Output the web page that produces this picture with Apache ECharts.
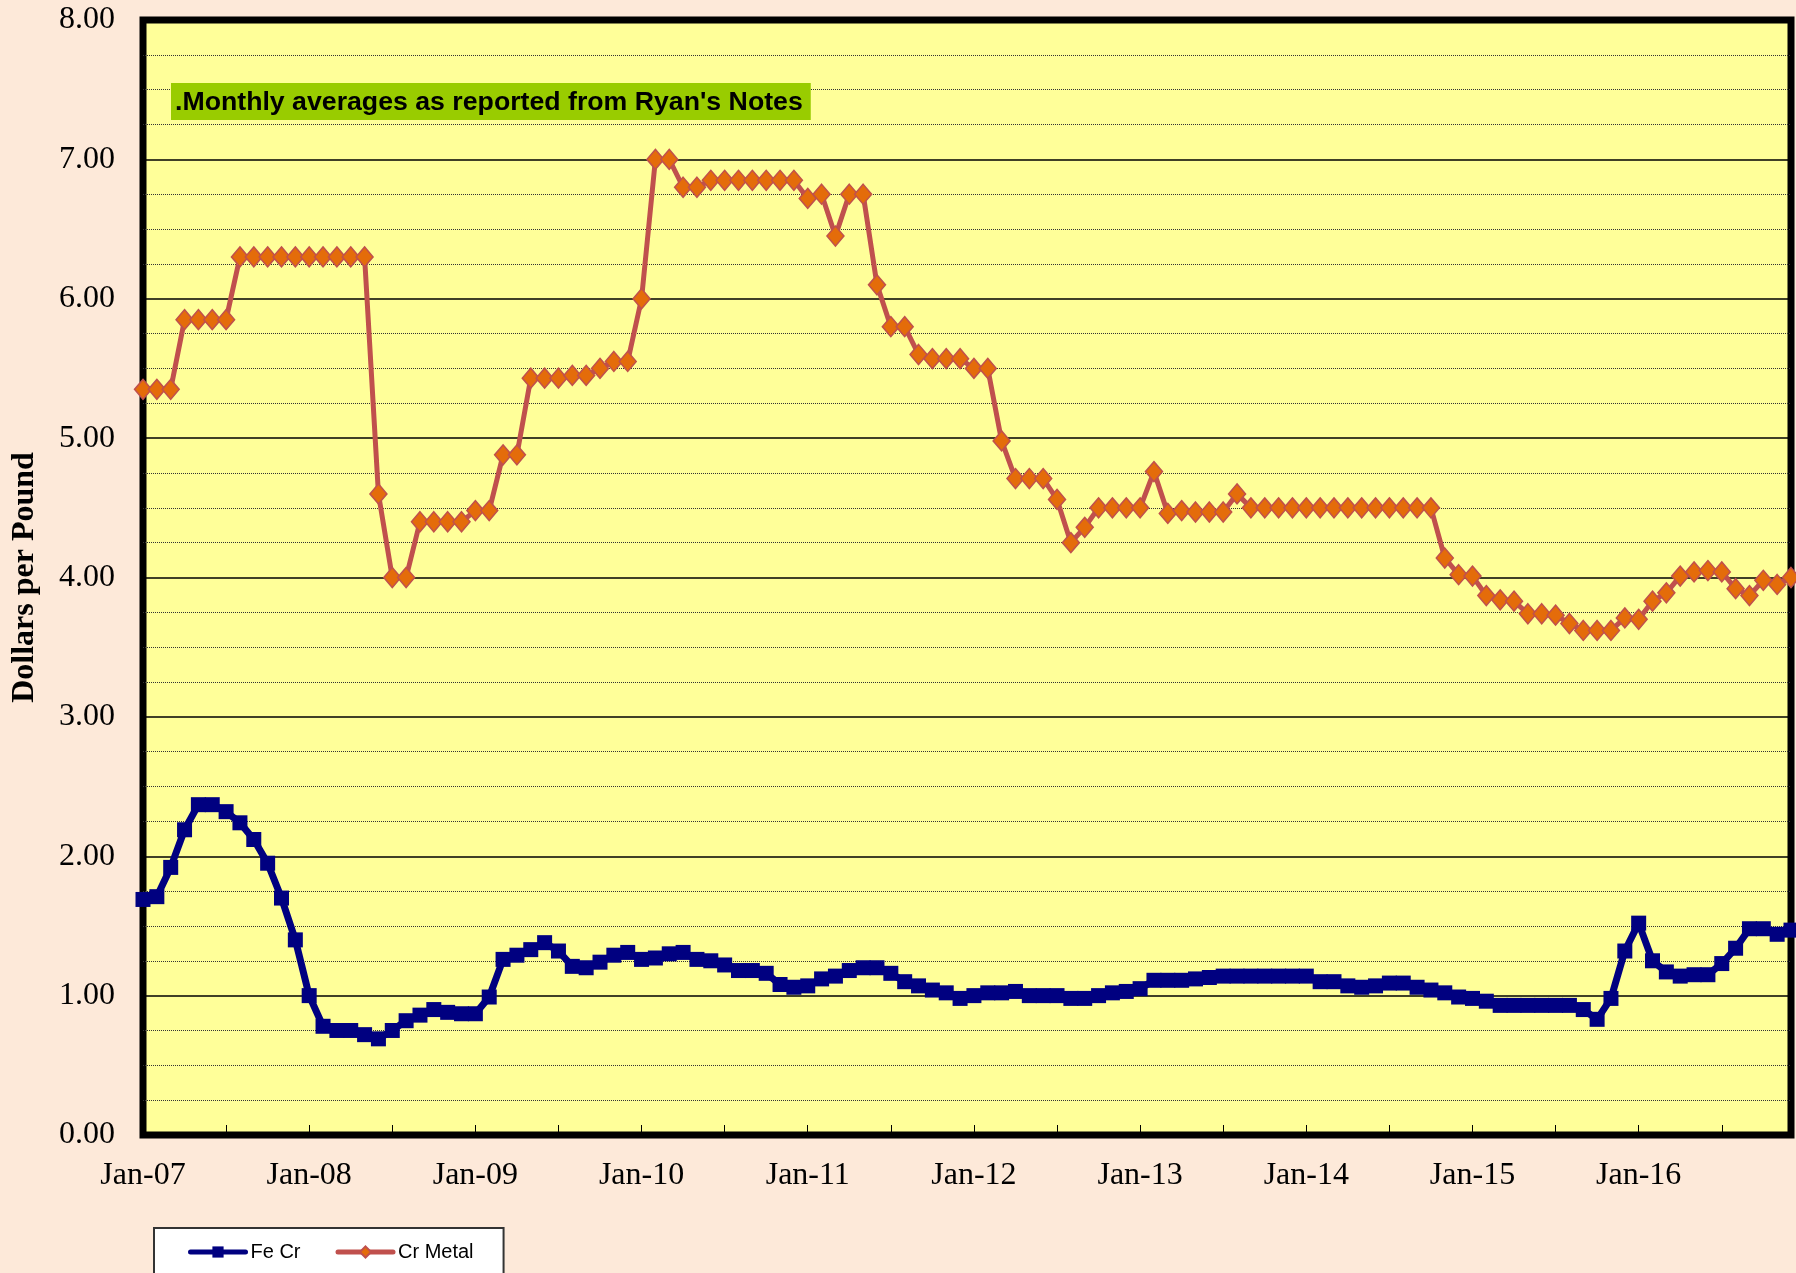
<!DOCTYPE html>
<html>
<head>
<meta charset="utf-8">
<title>Fe Cr / Cr Metal</title>
<script src="https://cdn.jsdelivr.net/npm/echarts@6/dist/echarts.min.js"></script>
<style>
  html, body { margin: 0; padding: 0; background: #FDE9D9; }
  #chart { width: 1796px; height: 1273px; }
</style>
</head>
<body>
<div id="chart"></div>
<script>
// months and years used to build the category labels
var months = ["Jan", "Feb", "Mar", "Apr", "May", "Jun", "Jul", "Aug", "Sep", "Oct", "Nov", "Dec"];
var years = ["07", "08", "09", "10", "11", "12", "13", "14", "15", "16"];

// Fe Cr, dollars per pound, Jan-07 .. Dec-16 (one row per year)
var feCr = [
  1.69, 1.71, 1.92, 2.19, 2.37, 2.37, 2.32, 2.24, 2.12, 1.95, 1.70, 1.40,
  1.00, 0.78, 0.75, 0.75, 0.72, 0.69, 0.75, 0.82, 0.86, 0.90, 0.88, 0.87,
  0.87, 0.99, 1.26, 1.29, 1.33, 1.38, 1.32, 1.21, 1.20, 1.24, 1.29, 1.31,
  1.26, 1.27, 1.30, 1.31, 1.26, 1.25, 1.22, 1.18, 1.18, 1.16, 1.08, 1.06,
  1.07, 1.12, 1.14, 1.18, 1.20, 1.20, 1.16, 1.10, 1.07, 1.04, 1.02, 0.98,
  1.00, 1.02, 1.02, 1.03, 1.00, 1.00, 1.00, 0.98, 0.98, 1.00, 1.02, 1.03,
  1.05, 1.11, 1.11, 1.11, 1.12, 1.13, 1.14, 1.14, 1.14, 1.14, 1.14, 1.14,
  1.14, 1.10, 1.10, 1.07, 1.06, 1.07, 1.09, 1.09, 1.06, 1.04, 1.02, 0.99,
  0.98, 0.96, 0.93, 0.93, 0.93, 0.93, 0.93, 0.93, 0.90, 0.83, 0.98, 1.32,
  1.52, 1.25, 1.17, 1.14, 1.15, 1.15, 1.23, 1.34, 1.48, 1.48, 1.44, 1.47
];

// Cr Metal, dollars per pound
var crMetal = [
  5.35, 5.35, 5.35, 5.85, 5.85, 5.85, 5.85, 6.30, 6.30, 6.30, 6.30, 6.30,
  6.30, 6.30, 6.30, 6.30, 6.30, 4.60, 4.00, 4.00, 4.40, 4.40, 4.40, 4.40,
  4.48, 4.48, 4.88, 4.88, 5.43, 5.43, 5.43, 5.45, 5.45, 5.50, 5.55, 5.55,
  6.00, 7.00, 7.00, 6.80, 6.80, 6.85, 6.85, 6.85, 6.85, 6.85, 6.85, 6.85,
  6.72, 6.75, 6.45, 6.75, 6.75, 6.10, 5.80, 5.80, 5.60, 5.57, 5.57, 5.57,
  5.50, 5.50, 4.98, 4.71, 4.71, 4.71, 4.56, 4.25, 4.36, 4.50, 4.50, 4.50,
  4.50, 4.76, 4.46, 4.48, 4.47, 4.47, 4.47, 4.60, 4.50, 4.50, 4.50, 4.50,
  4.50, 4.50, 4.50, 4.50, 4.50, 4.50, 4.50, 4.50, 4.50, 4.50, 4.14, 4.02,
  4.01, 3.87, 3.84, 3.83, 3.74, 3.74, 3.73, 3.67, 3.62, 3.62, 3.62, 3.71,
  3.70, 3.83, 3.89, 4.01, 4.04, 4.05, 4.04, 3.92, 3.87, 3.98, 3.95, 4.00
];

var seriesNames = ["Fe Cr", "Cr Metal"];
var noteText = ".Monthly averages as reported from Ryan's Notes";
var yTitle = "Dollars per Pound";

var categories = [];
for (var y = 0; y < years.length; y++) {
  for (var m = 0; m < months.length; m++) {
    categories.push(months[m] + "-" + years[y]);
  }
}

var serif = "'Liberation Serif', 'Times New Roman', serif";
var sans = "'Liberation Sans', Arial, sans-serif";

var myChart = echarts.init(document.getElementById("chart"));

var option = {
  backgroundColor: "#FDE9D9",
  animation: false,
  title: {
    text: noteText,
    left: 171,
    top: 83,
    backgroundColor: "#99CC00",
    padding: [6, 8, 4, 4],
    textStyle: {
      fontFamily: sans,
      fontWeight: "bold",
      fontSize: 26.7,
      color: "#000"
    }
  },
  legend: {
    data: [
      {
        name: seriesNames[0],
        lineStyle: { color: "#000080", width: 5, cap: "round" }
      },
      {
        name: seriesNames[1],
        lineStyle: { color: "#C0504D", width: 5, cap: "round" }
      }
    ],
    lineStyle: { width: 5 },
    left: 154,
    top: 1228,
    orient: "horizontal",
    backgroundColor: "#ffffff",
    borderColor: "#333333",
    borderWidth: 2,
    padding: [14, 30, 14, 34],
    itemWidth: 55,
    itemHeight: 14,
    itemGap: 35,
    textStyle: {
      fontFamily: sans,
      fontSize: 20,
      color: "#000"
    }
  },
  grid: {
    left: 143,
    right: 5,
    top: 20,
    bottom: 138,
    show: true,
    backgroundColor: "#FFFF99",
    borderColor: "#000",
    borderWidth: 7
  },
  xAxis: {
    type: "category",
    data: categories,
    boundaryGap: false,
    axisLine: { show: false },
    axisTick: {
      show: true,
      inside: true,
      interval: 5,
      length: 10,
      lineStyle: { color: "#000", width: 1 }
    },
    axisLabel: {
      interval: 11,
      margin: 25,
      fontFamily: serif,
      fontSize: 32,
      color: "#000"
    },
    splitLine: { show: false }
  },
  yAxis: {
    type: "value",
    min: 0,
    max: 8,
    interval: 1,
    name: yTitle,
    nameLocation: "middle",
    nameRotate: 90,
    nameGap: 102,
    nameTextStyle: {
      fontFamily: serif,
      fontWeight: "bold",
      fontSize: 32,
      color: "#000"
    },
    axisLine: { show: false },
    axisTick: { show: false },
    axisLabel: {
      margin: 28,
      fontFamily: serif,
      fontSize: 32,
      color: "#000",
      formatter: function (v) { return v.toFixed(2); }
    },
    splitLine: {
      show: true,
      lineStyle: { color: "#000", width: 1.5, type: "solid" }
    },
    minorTick: { show: false, splitNumber: 4 },
    minorSplitLine: {
      show: true,
      lineStyle: { color: "#333", width: 1, type: "dotted" }
    }
  },
  series: [
    {
      name: seriesNames[0],
      type: "line",
      data: feCr,
      symbol: "rect",
      symbolSize: 15,
      showAllSymbol: true,
      lineStyle: { color: "#000080", width: 7 },
      itemStyle: { color: "#000080" },
      z: 3
    },
    {
      name: seriesNames[1],
      type: "line",
      data: crMetal,
      symbol: "diamond",
      symbolSize: [17, 20],
      showAllSymbol: true,
      lineStyle: { color: "#C0504D", width: 5 },
      itemStyle: { color: "#E46C0A", borderColor: "#C0504D", borderWidth: 1.5 },
      z: 4
    }
  ]
};

myChart.setOption(option);
</script>
</body>
</html>
